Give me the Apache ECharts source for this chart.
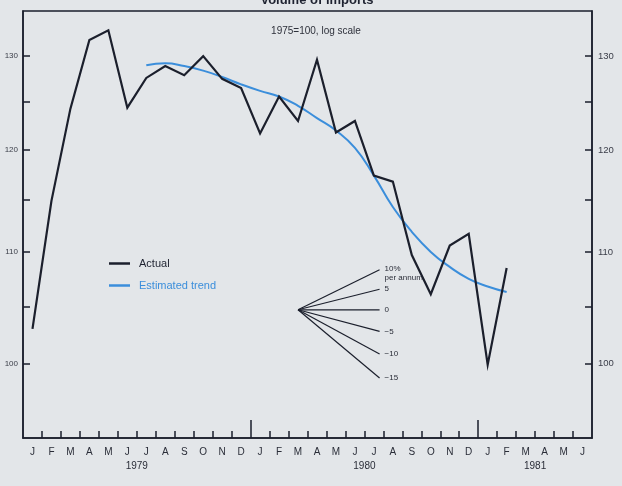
<!DOCTYPE html>
<html>
<head>
<meta charset="utf-8">
<title>Volume of imports</title>
<script src="https://cdn.jsdelivr.net/npm/echarts@6/dist/echarts.min.js"></script>
<style>
  html, body { margin: 0; padding: 0; background: #e3e6e9; }
  #chart { width: 622px; height: 486px; }
</style>
</head>
<body>
<div id="chart"></div>
<script>
// Months from January 1979 to June 1981
const monthLabels = [
  'J','F','M','A','M','J','J','A','S','O','N','D',
  'J','F','M','A','M','J','J','A','S','O','N','D',
  'J','F','M','A','M','J'
];
const yearLabels = ['1979', '1980', '1981'];
const yearCentres = [6, 18, 27];      // month position under which each year name sits
const yearBreaks = [12, 24];          // long ticks between December and January

// Volume of imports, 1975 = 100, monthly from Jan 1979
const actual = [
  103.0, 114.9, 124.3, 131.8, 132.9, 124.4, 127.6, 128.9, 127.9, 130.0, 127.5, 126.5,
  121.7, 125.6, 123.0, 129.6, 121.8, 123.0, 117.4, 116.8, 109.7, 106.1, 110.6, 111.7,
  99.9, 108.5
];
// Estimated trend, monthly from Jul 1979 to Feb 1981
const trendStart = 6;
const trend = [
  129.0, 129.2, 128.9, 128.4, 127.7, 126.9, 126.2, 125.6, 124.6, 123.3, 122.0, 120.2,
  117.4, 114.3, 111.9, 110.0, 108.6, 107.5, 106.8, 106.3
];

// Value axis (log scale)
const valueTicks = [100, 105, 110, 115, 120, 125, 130];
const valueLabels = [100, 110, 120, 130];
const valueMin = 93.85;
const valueMax = 135.1;

// Slope guide: growth rates, per cent per annum
const fanRates = [10, 5, 0, -5, -10, -15];
const fanLabels = ['10%\nper annum', '5', '0', '\u22125', '\u221210', '\u221215'];
const fanOrigin = { month: 14.5, value: 104.7, span: 4.3 };

const lg = Math.log10;
const ink = '#1b1f2c';
const blue = '#3b8edb';
const labelInk = '#2a2d38';

const actualData = actual.map((v, i) => [i + 0.5, lg(v)]);
const trendData = trend.map((v, i) => [trendStart + i + 0.5, lg(v)]);
const monthCentres = monthLabels.map((_, i) => i + 0.5);
const monthTicks = monthLabels.map((_, i) => i).filter(i => i > 0 && yearBreaks.indexOf(i) < 0);

// each guide line rises at its stated annual rate over the same span of months
const fanSeries = fanRates.map((r, i) => ({
  type: 'line',
  name: 'rate' + r,
  silent: true,
  symbol: 'none',
  z: 4,
  lineStyle: { color: ink, width: 1.2 },
  data: [
    [fanOrigin.month, lg(fanOrigin.value)],
    [fanOrigin.month + fanOrigin.span,
     lg(fanOrigin.value * Math.pow(1 + r / 100, fanOrigin.span / 12))]
  ],
  endLabel: {
    show: true,
    formatter: fanLabels[i],
    fontSize: 8,
    lineHeight: 9,
    color: labelInk,
    distance: 5,
    offset: i === 0 ? [0, 4] : [0, 0]
  }
}));

function valueAxis(position, fontSize, margin) {
  return {
    type: 'value',
    position: position,
    min: lg(valueMin),
    max: lg(valueMax),
    axisLine: { show: true, onZero: false, lineStyle: { color: ink, width: 1.5 } },
    axisTick: {
      show: true, inside: true, length: 7,
      customValues: valueTicks.map(lg),
      lineStyle: { color: ink, width: 1.5 }
    },
    axisLabel: {
      customValues: valueLabels.map(lg),
      formatter: v => String(Math.round(Math.pow(10, v))),
      fontSize: fontSize,
      color: '#3a3d48',
      margin: margin
    },
    splitLine: { show: false }
  };
}

const chart = echarts.init(document.getElementById('chart'));
chart.setOption({
  animation: false,
  backgroundColor: '#e3e6e9',
  textStyle: { fontFamily: 'Liberation Sans, Arial, sans-serif' },
  title: [
    {
      text: 'Volume of imports',
      left: 317, top: -6, padding: 0, textAlign: 'center',
      textStyle: { fontSize: 13, fontWeight: 'bold', color: '#1e2230' }
    },
    {
      text: '1975=100, log scale',
      left: 316, top: 26, padding: 0, textAlign: 'center',
      textStyle: { fontSize: 10, fontWeight: 'normal', color: '#2e313b' }
    }
  ],
  grid: {
    left: 23, right: 30, top: 11, bottom: 48,
    show: true, borderColor: ink, borderWidth: 1.5,
    backgroundColor: 'transparent'
  },
  legend: {
    data: [
      { name: 'Actual', textStyle: { color: '#1e2230' } },
      { name: 'Estimated trend', textStyle: { color: blue } }
    ],
    orient: 'vertical',
    left: 104, top: 253,
    icon: 'rect',
    itemWidth: 21, itemHeight: 2.5, itemGap: 11,
    selectedMode: false,
    textStyle: { fontSize: 11, padding: [0, 0, 0, 4] }
  },
  xAxis: [
    {
      type: 'value', min: 0, max: 30, position: 'bottom',
      axisLine: { show: true, onZero: false, lineStyle: { color: ink, width: 1.5 } },
      axisTick: {
        show: true, inside: true, length: 7,
        customValues: monthTicks,
        lineStyle: { color: ink, width: 1.5 }
      },
      axisLabel: {
        customValues: monthCentres,
        formatter: v => monthLabels[Math.floor(v)],
        fontSize: 10, color: labelInk, margin: 9
      },
      splitLine: { show: false }
    },
    {
      type: 'value', min: 0, max: 30, position: 'bottom',
      axisLine: { show: false, onZero: false },
      axisTick: {
        show: true, inside: true, length: 18,
        customValues: yearBreaks,
        lineStyle: { color: ink, width: 1.5 }
      },
      axisLabel: {
        customValues: yearCentres,
        formatter: v => yearLabels[yearCentres.indexOf(v)],
        fontSize: 10, color: labelInk, margin: 23
      },
      splitLine: { show: false }
    }
  ],
  yAxis: [valueAxis('left', 8, 5), valueAxis('right', 9.5, 6)],
  series: [
    {
      name: 'Actual',
      type: 'line',
      symbol: 'none',
      z: 5,
      data: actualData,
      lineStyle: { color: ink, width: 2.2, join: 'miter' },
      itemStyle: { color: ink }
    },
    {
      name: 'Estimated trend',
      type: 'line',
      symbol: 'none',
      smooth: 0.5,
      z: 3,
      data: trendData,
      lineStyle: { color: blue, width: 2 },
      itemStyle: { color: blue }
    }
  ].concat(fanSeries)
});
</script>
</body>
</html>
